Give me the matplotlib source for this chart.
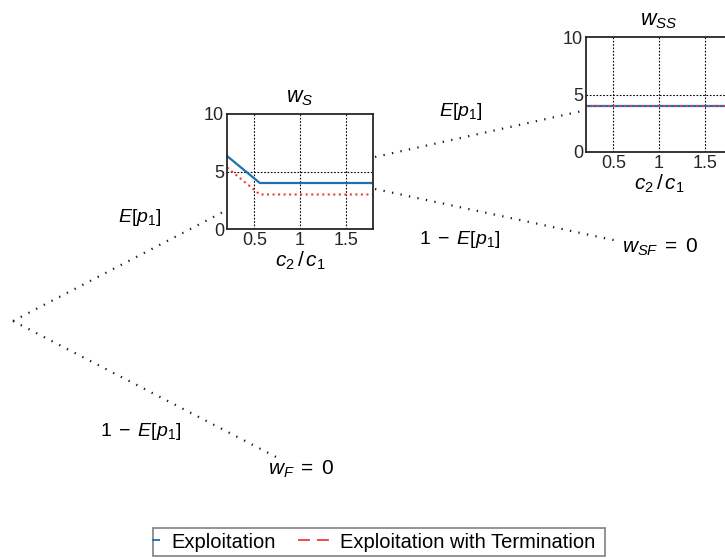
import matplotlib
matplotlib.use("Agg")
import matplotlib.pyplot as plt
from matplotlib.lines import Line2D
from matplotlib.patches import Rectangle

plt.rcParams['font.family'] = ['Liberation Sans', 'DejaVu Sans']
plt.rcParams['mathtext.fontset'] = 'custom'
plt.rcParams['mathtext.rm'] = 'Liberation Sans'
plt.rcParams['mathtext.it'] = 'Liberation Sans:italic'
plt.rcParams['mathtext.bf'] = 'Liberation Sans:bold'

# ---- data ----
ratio_ws = [0.2, 0.56, 1.8]
exploit_ws = [6.35, 4.0, 4.0]
term_ws = [5.35, 3.0, 3.0]

ratio_wss = [0.2, 1.8]
exploit_wss = [4.0, 4.0]
term_wss = [4.0, 4.0]

xticks = [0.5, 1, 1.5]
xticklabels = ["0.5", "1", "1.5"]
yticks = [0, 5, 10]
yticklabels = ["0", "5", "10"]

series_names = ["Exploitation", "Exploitation with Termination"]
blue = '#1f6fb4'
red = '#f03c3c'

W, H = 725, 559
fig = plt.figure(figsize=(W / 100, H / 100), dpi=100)

# background axes in pixel coordinates for the tree
bg = fig.add_axes([0, 0, 1, 1])
bg.set_xlim(0, W)
bg.set_ylim(H, 0)
bg.axis('off')

branches = [
    ((13, 321), (225, 211)),
    ((13, 321), (280, 459)),
    ((375, 157), (582, 111)),
    ((375, 189), (618, 241)),
]
for (x0, y0), (x1, y1) in branches:
    bg.plot([x0, x1], [y0, y1], color='#1a1a1a', lw=1.6, ls=(0, (0.6, 3.3)),
            dash_capstyle='butt')

lab_fs = 14
bg.text(140, 218, r'$E[p_1]$', ha='center', va='center', fontsize=lab_fs)
bg.text(141, 431, r'$1\;-\;E[p_1]$', ha='center', va='center', fontsize=lab_fs)
bg.text(461, 111, r'$E[p_1]$', ha='center', va='center', fontsize=lab_fs)
bg.text(460, 239, r'$1\;-\;E[p_1]$', ha='center', va='center', fontsize=lab_fs)
bg.text(622, 247, r'$w_{SF}\;=\;0$', ha='left', va='center', fontsize=15)
bg.text(268, 469, r'$w_F\;=\;0$', ha='left', va='center', fontsize=15)


def make_inset(left, top, title, xs, ys_e, ys_t):
    w, h = 146, 115
    ax = fig.add_axes([left / W, 1 - (top + h) / H, w / W, h / H])
    ax.plot(xs, ys_e, color=blue, lw=1.6)
    ax.plot(xs, ys_t, color=red, lw=1.5, ls=':')
    ax.set_xlim(0.2, 1.8)
    ax.set_ylim(0, 10)
    ax.set_xticks(xticks)
    ax.set_xticklabels(xticklabels)
    ax.set_yticks(yticks)
    ax.set_yticklabels(yticklabels)
    ax.tick_params(length=0, labelsize=13, pad=2, labelcolor='#262626')
    for x in xticks:
        ax.axvline(x, color='black', lw=0.8, ls=(0, (1.5, 1.5)), zorder=0)
    ax.axhline(5, color='black', lw=0.8, ls=(0, (1.5, 1.5)), zorder=0)
    for s in ax.spines.values():
        s.set_color('#262626')
        s.set_linewidth(1.3)
    ax.set_xlabel(r'$c_2\,/\,c_1$', fontsize=15, labelpad=1)
    ax.set_title(title, fontsize=15.5, pad=8)
    return ax


make_inset(227, 114, r'$w_S$', ratio_ws, exploit_ws, term_ws)
make_inset(586, 37, r'$w_{SS}$', ratio_wss, exploit_wss, term_wss)

# legend: blue handle only partly visible inside the frame, as in the reference
lw_h = 1.3
on_pt = 7.2 / lw_h
off_pt = 16.6 / lw_h
handles = [Line2D([], [], color=blue, lw=lw_h, ls=(on_pt, (on_pt, off_pt))),
           Line2D([], [], color=red, lw=lw_h, ls=(0, (6.6, 3.9)))]
leg = fig.legend(handles, series_names, loc='center', ncol=2,
                 bbox_to_anchor=(362 / W, 1 - 542 / H), fontsize=14.5,
                 frameon=False,
                 handlelength=1.55, columnspacing=1.1, borderpad=0.2,
                 handletextpad=0.55, borderaxespad=0)
bg.add_patch(Rectangle((153, 528), 452, 28, fill=False, edgecolor='#808080',
                       lw=1.2))

fig.savefig('out.png', dpi=100)
